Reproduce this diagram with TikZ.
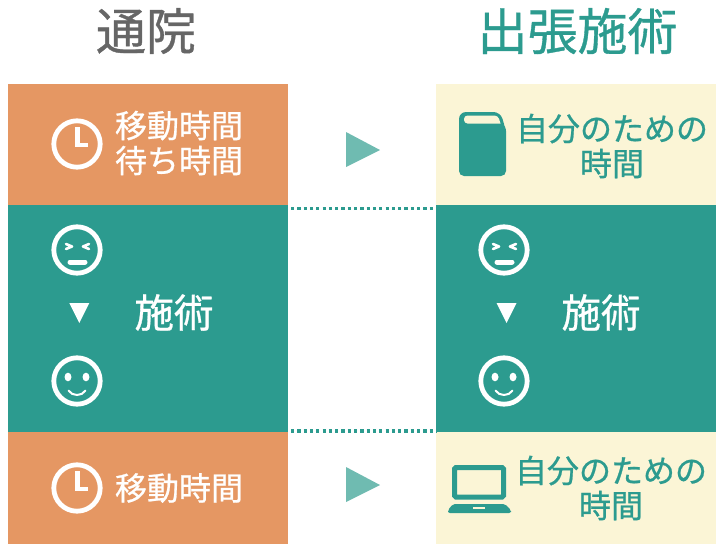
\documentclass[tikz,border=0pt]{standalone}
\usepackage{fontspec}
\setmainfont[FakeBold=0.7]{Noto Sans CJK JP}
\usetikzlibrary{positioning}
\definecolor{tealc}{HTML}{2C9B8F}
\definecolor{orangec}{HTML}{E59763}
\definecolor{creamc}{HTML}{FBF5D6}
\definecolor{arrowc}{HTML}{6FBBB1}
\definecolor{grayc}{HTML}{666666}
\tikzset{band/.style = {inner sep=0pt, outer sep=0pt, minimum width=280pt},
         title/.style = {inner sep=0pt, font=\fontsize{50}{50}\selectfont},
         label/.style = {inner sep=0pt, align=center, font=\fontsize{32}{35}\selectfont},
         treat/.style = {inner sep=0pt, white, font=\fontsize{39.5}{39.5}\selectfont},
         sep/.style = {tealc, line width=3.2pt, dash pattern=on 3.2pt off 3.1pt},
         ring/.style = {draw=white, line width=4.8pt},
         stroke/.style = {draw=white, line width=2.6pt, line cap=round, line join=round},
         pics/clock/.style = {code={
           \draw [ring] (0,0) circle (23.2);
           \draw [draw=white, line width=4.8pt] (0.5,-17) -- (0.5,1) -- (11,1);}},
         pics/sad/.style = {code={
           \draw [ring] (0,0) circle (23.2);
           \draw [stroke] (-11,-6) -- (-5,-3.5) -- (-11,-1);
           \draw [stroke] (12,-6) -- (6,-3.5) -- (12,-1);
           \draw [stroke, line width=5pt] (-7,12) -- (8,12);}},
         pics/happy/.style = {code={
           \draw [ring] (0,0) circle (23.2);
           \fill [white] (-9,-4) ellipse (3.5 and 4.3);
           \fill [white] (9,-4) ellipse (3.5 and 4.3);
           \draw [stroke, line width=2pt] (-8.5,9.5) .. controls (-5,15.5) and (5,15.5) .. (8.5,9.5);}}}
\begin{document}
\begin{tikzpicture}[x=1pt, y=-1pt]
  \useasboundingbox (0,0) rectangle (726,552);
  % left column
  \node [band, fill=orangec, minimum height=121pt, anchor=north west] (leftA) at (8,84) {};
  \node [band, fill=tealc, minimum height=227pt, below=0pt of leftA] (leftB) {};
  \node [band, fill=orangec, minimum height=112pt, below=0pt of leftB] (leftC) {};
  % right column
  \node [band, fill=creamc, minimum height=121pt, anchor=north west] (rightA) at (436,84) {};
  \node [band, fill=tealc, minimum height=227pt, below=0pt of rightA] (rightB) {};
  \node [band, fill=creamc, minimum height=112pt, below=0pt of rightB] (rightC) {};
  % titles
  \node [title, grayc] (titleL) at (146,31) {通院};
  \node [title, tealc] (titleR) at (577.5,31) {出張施術};
  % texts
  \node [label, white] (waitA) at (179,143) {移動時間\\待ち時間};
  \node [label, white] (waitB) at (179,488) {移動時間};
  \node [label, tealc] (selfA) at (612,146) {自分のための\\時間};
  \node [label, tealc] (selfB) at (611,488) {自分のための\\時間};
  \node [treat] (treatL) at (174,312.5) {施術};
  \node [treat] (treatR) at (601,312.5) {施術};
  % icons
  \pic at (77,144) {clock};
  \pic at (77,488) {clock};
  \pic at (77,250) {sad};
  \pic at (504,250) {sad};
  \pic at (77,381) {happy};
  \pic at (504,381) {happy};
  \fill [white] (69.3,303) -- (89.3,303) -- (79.3,323) -- cycle;
  \fill [white] (496.5,303) -- (516.5,303) -- (506.5,323) -- cycle;
  % arrows
  \fill [arrowc] (346,132) -- (380,150) -- (346,167) -- cycle;
  \fill [arrowc] (346,467) -- (380,485) -- (346,502) -- cycle;
  % book
  \fill [tealc, rounded corners=5pt] (459,130) -- (459,176) -- (506,176) -- (506,126) -- (503.5,124);
  \fill [tealc, rounded corners=7pt] (459,135) -- (459,112) -- (500.5,112) [sharp corners] -- (504,124) -- (504,135) -- cycle;
  \fill [creamc, rounded corners=3.5pt] (464,115.5) -- (498,115.5) [sharp corners] -- (500.5,123.5) [rounded corners=3.5pt] -- (464,123.5) -- cycle;
  % laptop
  \draw [tealc, line width=5pt, rounded corners=1.5pt] (454.5,467.5) rectangle (503.5,497);
  \fill [tealc, rounded corners=2pt] (453,504) -- (505,504) -- (511,510) -- (511,513) -- (448,513) -- (448,510) -- cycle;
  \fill [creamc] (473,507) rectangle (485,509);
  % dotted lines
  \draw [sep] ([xshift=3pt, yshift=-3.5pt]leftA.south east) -- ([yshift=-3.5pt]rightA.south west);
  \draw [sep] ([xshift=3pt, yshift=1pt]leftB.south east) -- ([yshift=1pt]rightB.south west);
\end{tikzpicture}
\end{document}
